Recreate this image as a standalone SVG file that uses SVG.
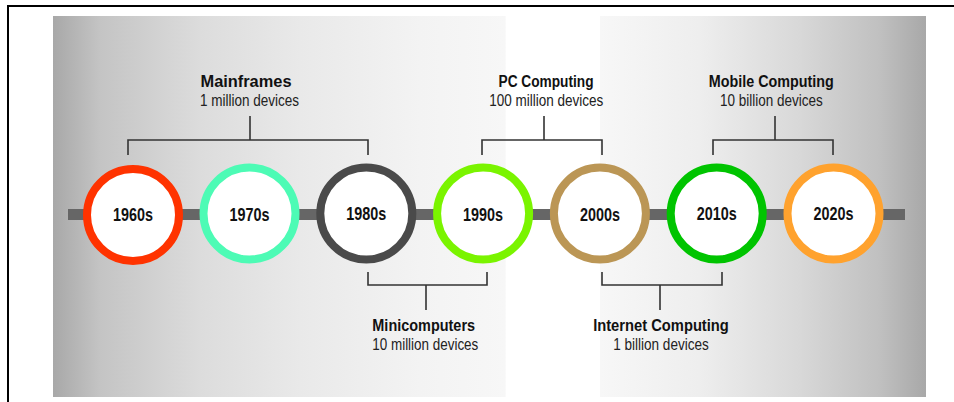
<svg xmlns="http://www.w3.org/2000/svg" width="954" height="402" viewBox="0 0 954 402">
<defs>
<linearGradient id="bg" gradientUnits="userSpaceOnUse" x1="53" y1="0" x2="926" y2="0">
<stop offset="0" stop-color="#a8a8a8"/>
<stop offset="0.054" stop-color="#c4c4c4"/>
<stop offset="0.168" stop-color="#dcdcdc"/>
<stop offset="0.283" stop-color="#e9e9e9"/>
<stop offset="0.42" stop-color="#f3f3f3"/>
<stop offset="0.518" stop-color="#f7f7f7"/>
<stop offset="0.519" stop-color="#ffffff"/>
<stop offset="0.626" stop-color="#ffffff"/>
<stop offset="0.627" stop-color="#f7f7f7"/>
<stop offset="0.74" stop-color="#eeeeee"/>
<stop offset="0.856" stop-color="#d8d8d8"/>
<stop offset="0.947" stop-color="#c0c0c0"/>
<stop offset="1" stop-color="#a8a8a8"/>
</linearGradient>
</defs>
<style>
.ring{fill:#ffffff;stroke-width:8}
.yr{font-family:"Liberation Sans Narrow","Liberation Sans",Arial,sans-serif;font-weight:bold;font-size:18px;fill:#111;text-anchor:middle}
.tt{font-family:"Liberation Sans Narrow","Liberation Sans",Arial,sans-serif;font-weight:bold;font-size:16px;fill:#111;text-anchor:middle}
.st{font-family:"Liberation Sans Narrow","Liberation Sans",Arial,sans-serif;font-size:16px;fill:#222;text-anchor:middle}
.br{fill:none;stroke:#333;stroke-width:1.6}
</style>
<path d="M8 402 V6 H954" fill="none" stroke="#000" stroke-width="2"/>
<rect x="53" y="16" width="873" height="381" fill="url(#bg)"/>
<rect x="68" y="209" width="837" height="11" fill="#666666"/>
<g id="connectors">
<path class="br" d="M128 155 V140 H368 V155 M250 140 V116"/>
<path class="br" d="M482 155 V140 H602 V155 M544 140 V116"/>
<path class="br" d="M713 155 V140 H833 V155 M775 140 V116"/>
<path class="br" d="M368 272 V285 H487 V272 M426 285 V310"/>
<path class="br" d="M602 272 V285 H722 V272 M660 285 V310"/>
</g>
<g id="n1960"><circle class="ring" cx="133" cy="215" r="46" stroke="#ff3300"/><text class="yr" x="133" y="221" textLength="40" lengthAdjust="spacingAndGlyphs">1960s</text></g>
<g id="n1970"><circle class="ring" cx="249.5" cy="213.5" r="46" stroke="#4dfbb5"/><text class="yr" x="249.5" y="221" textLength="40" lengthAdjust="spacingAndGlyphs">1970s</text></g>
<g id="n1980"><circle class="ring" cx="366.3" cy="213.5" r="46" stroke="#4a4a4a"/><text class="yr" x="366.3" y="220" textLength="40" lengthAdjust="spacingAndGlyphs">1980s</text></g>
<g id="n1990"><circle class="ring" cx="483.1" cy="213.5" r="46" stroke="#7af400"/><text class="yr" x="483.1" y="221" textLength="40" lengthAdjust="spacingAndGlyphs">1990s</text></g>
<g id="n2000"><circle class="ring" cx="599.9" cy="213.5" r="46" stroke="#bb9655"/><text class="yr" x="599.9" y="221" textLength="40" lengthAdjust="spacingAndGlyphs">2000s</text></g>
<g id="n2010"><circle class="ring" cx="716.7" cy="213.5" r="46" stroke="#00c400"/><text class="yr" x="716.7" y="220" textLength="40" lengthAdjust="spacingAndGlyphs">2010s</text></g>
<g id="n2020"><circle class="ring" cx="833.5" cy="213.5" r="46" stroke="#ffa22e"/><text class="yr" x="833.5" y="220" textLength="40" lengthAdjust="spacingAndGlyphs">2020s</text></g>
<g id="mainframes"><text class="tt" x="246" y="87" textLength="91" lengthAdjust="spacingAndGlyphs">Mainframes</text><text class="st" x="249.5" y="106" textLength="99" lengthAdjust="spacingAndGlyphs">1 million devices</text></g>
<g id="pc"><text class="tt" x="546" y="87" textLength="95" lengthAdjust="spacingAndGlyphs">PC Computing</text><text class="st" x="546.3" y="106" textLength="114" lengthAdjust="spacingAndGlyphs">100 million devices</text></g>
<g id="mobile"><text class="tt" x="771.3" y="87" textLength="125" lengthAdjust="spacingAndGlyphs">Mobile Computing</text><text class="st" x="771.3" y="106" textLength="102.7" lengthAdjust="spacingAndGlyphs">10 billion devices</text></g>
<g id="mini"><text class="tt" x="423.7" y="331" textLength="102.7" lengthAdjust="spacingAndGlyphs">Minicomputers</text><text class="st" x="425.3" y="350" textLength="106" lengthAdjust="spacingAndGlyphs">10 million devices</text></g>
<g id="internet"><text class="tt" x="661" y="331" textLength="135.7" lengthAdjust="spacingAndGlyphs">Internet Computing</text><text class="st" x="661" y="350" textLength="95.6" lengthAdjust="spacingAndGlyphs">1 billion devices</text></g>
</svg>
